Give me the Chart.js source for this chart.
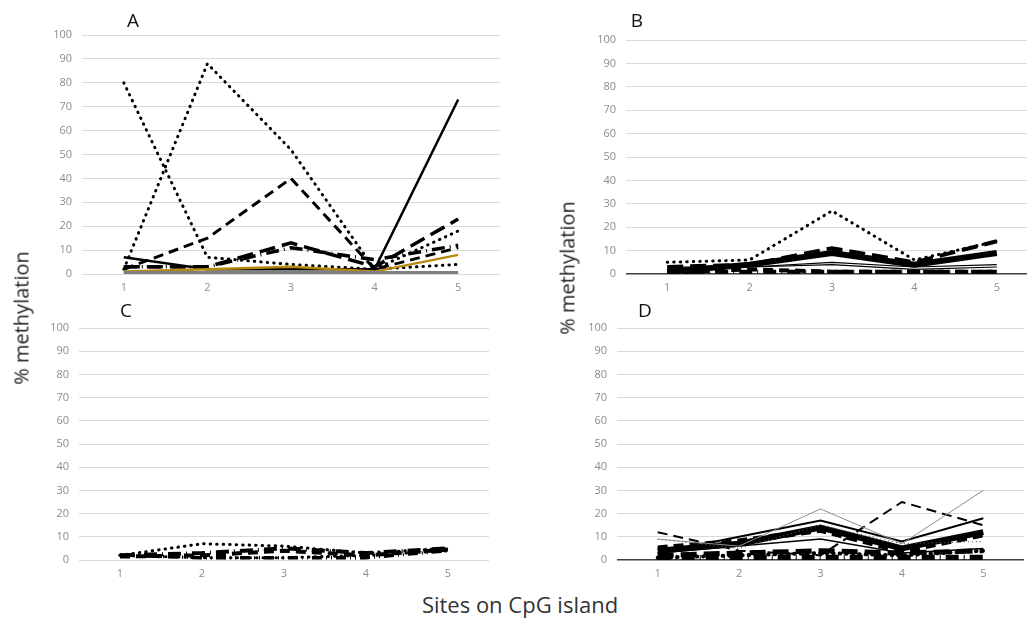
<!DOCTYPE html>
<html>
<head>
<meta charset="utf-8">
<script src="https://cdn.jsdelivr.net/npm/chart.js@4.4.0/dist/chart.umd.min.js"></script>
<style>
  html, body { margin: 0; padding: 0; background: #fff; overflow: hidden; width: 1027px; height: 629px; }
  .panel { position: absolute; }
  .lbl { position: absolute; font-family: "Open Sans", "Liberation Sans", sans-serif; color: #111; }
  .letter { font-size: 19px; transform: translate(-50%, -50%); }
  .ytitle { font-size: 20px; color: #222; transform: translate(-50%, -50%) rotate(-90deg); white-space: nowrap; }
  .xtitle { font-size: 22px; color: #333; transform: translate(-50%, -50%); white-space: nowrap; }
</style>
</head>
<body>
<canvas id="chartA" class="panel"></canvas>
<canvas id="chartB" class="panel"></canvas>
<canvas id="chartC" class="panel"></canvas>
<canvas id="chartD" class="panel"></canvas>

<div class="lbl letter" style="left:133px;top:20px">A</div>
<div class="lbl letter" style="left:637px;top:20px">B</div>
<div class="lbl letter" style="left:126px;top:310px">C</div>
<div class="lbl letter" style="left:645px;top:310px">D</div>
<div class="lbl ytitle" style="left:21px;top:318px">% methylation</div>
<div class="lbl ytitle" style="left:567px;top:268px">% methylation</div>
<div class="lbl xtitle" style="left:520px;top:604px">Sites on CpG island</div>

<script>
// sites on the CpG island (x categories)
const sites = ['1', '2', '3', '4', '5'];

// panel A
const a1 = [80, 7, 4, 2, 4];
const a2 = [2, 88, 52, 2, 18];
const a3 = [2, 15, 40, 2, 11];
const a4 = [7, 2, 2, 2, 73];
const a5 = [3, 3, 11, 6, 12];
const a6 = [3, 3, 13, 3, 23];
const a7 = [1, 2, 3, 1, 8];
const a8 = [0.5, 0.5, 0.5, 0.5, 0.5];

// panel B
const b1 = [5, 6, 27, 6, 14];
const b2 = [1, 4, 9, 4, 9];
const b3 = [3, 4, 11, 5, 14];
const b4 = [3, 3, 5, 3, 4];
const b5 = [2, 3, 4, 2, 3];
const b6 = [1, 1, 1, 1, 1];
const b7 = [0.5, 2, 1, 1, 1];

// panel C
const c1 = [2, 7, 6, 3, 5];
const c2 = [2, 3, 5, 3, 5];
const c3 = [2, 1, 1, 1, 4];
const c4 = [1.5, 2, 4, 2, 4.5];
const c5 = [2, 1, 1, 2, 4];

// panel D
const d1 = [9, 6, 22, 7, 30];
const d2 = [12, 4, 2, 25, 15];
const d3 = [3, 10, 17, 8, 18];
const d4 = [4, 7, 14, 5, 12];
const d5 = [5, 8, 13, 4, 11];
const d6 = [3, 6, 9, 3, 5];
const d7 = [1, 1, 1, 1, 1];
const d8 = [1, 2, 3, 2, 4];
const d9 = [2, 3, 4, 3, 4];
const d10 = [9, 5, 15, 7, 8];

// line styles
const DOT = [0.5, 6];
const DASH = [10, 6];
const LONG = [16, 7];
const DASHDOT = [13, 5, 1, 5];
const DASHDOTDOT = [10, 4, 1, 4, 1, 4];

function line(data, width, dash, color) {
  return {
    data: data,
    borderColor: color || '#000',
    borderWidth: width,
    borderDash: dash || [],
    borderCapStyle: dash === DOT ? 'round' : 'butt',
    pointRadius: 0,
    tension: 0,
    fill: false
  };
}

function makePanel(id, area, datasets, darkZero) {
  const yw = 50, xh = 26, pt = 20, pr = 5;
  const x0 = area.l - yw, y0 = area.t - pt;
  const w = area.r + pr - x0, h = area.b + xh - y0;
  const cv = document.getElementById(id);
  cv.style.left = x0 + 'px';
  cv.style.top = y0 + 'px';
  cv.style.width = w + 'px';
  cv.style.height = h + 'px';
  cv.width = w;
  cv.height = h;
  const tickFont = { family: '"Open Sans", "Liberation Sans", sans-serif', size: 11 };
  new Chart(cv.getContext('2d'), {
    type: 'line',
    data: { labels: sites, datasets: datasets },
    options: {
      responsive: false,
      animation: false,
      layout: { padding: { top: pt, right: pr, left: 0, bottom: 0 } },
      plugins: { legend: { display: false }, tooltip: { enabled: false } },
      scales: {
        x: {
          offset: true,
          grid: { display: false, drawTicks: false, offset: true },
          border: { display: false },
          ticks: { color: '#8c8c8c', font: tickFont, padding: 7 },
          afterFit: s => { s.height = xh; }
        },
        y: {
          min: 0, max: 100,
          grid: {
            drawTicks: false,
            color: c => (darkZero && c.tick && c.tick.value === 0) ? '#404040' : '#d9d9d9',
            lineWidth: c => (darkZero && c.tick && c.tick.value === 0) ? 1.5 : 1
          },
          border: { display: false },
          ticks: { stepSize: 10, color: '#8c8c8c', font: tickFont, padding: 10 },
          afterFit: s => { s.width = yw; }
        }
      }
    }
  });
}

makePanel('chartA', { l: 82, r: 500, t: 35, b: 274 }, [
  line(a8, 3.5, null, '#7f7f7f'),
  line(a7, 2.5, null, '#b8870f'),
  line(a1, 3, DOT),
  line(a2, 3, DOT),
  line(a3, 3, DASH),
  line(a4, 2.5, null),
  line(a5, 3.5, DASHDOT),
  line(a6, 3.5, LONG)
], false);

makePanel('chartB', { l: 626, r: 1038, t: 40, b: 274 }, [
  line(b1, 3, DOT),
  line(b2, 6, null),
  line(b3, 4, LONG),
  line(b4, 1.2, null),
  line(b5, 1.2, null),
  line(b6, 4, DASHDOT),
  line(b7, 4, DASH)
], true);

makePanel('chartC', { l: 79, r: 489, t: 328, b: 560 }, [
  line(c1, 3, DOT),
  line(c2, 4, DASHDOT),
  line(c3, 3.5, DASHDOTDOT),
  line(c4, 4, DASH),
  line(c5, 3, DOT)
], false);

makePanel('chartD', { l: 617, r: 1024, t: 328, b: 560 }, [
  line(d1, 1, null, '#8c8c8c'),
  line(d10, 1.2, [1, 3], '#555'),
  line(d2, 2, DASH),
  line(d3, 2, null),
  line(d4, 6, null),
  line(d5, 6, DASH),
  line(d6, 1.5, null),
  line(d7, 6, DASHDOT),
  line(d8, 4, DOT),
  line(d9, 5, LONG)
], true);
</script>
</body>
</html>
